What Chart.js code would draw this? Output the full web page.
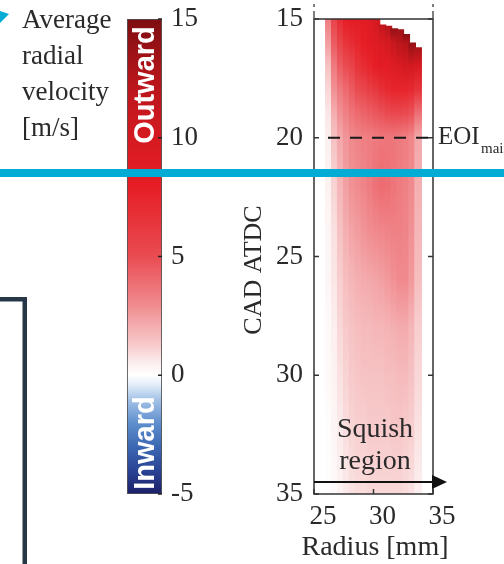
<!DOCTYPE html>
<html>
<head>
<meta charset="utf-8">
<title>Average radial velocity</title>
<script src="https://cdn.jsdelivr.net/npm/chart.js@4.4.0/dist/chart.umd.min.js"></script>
<style>
  body { margin: 0; background: #fff; overflow: hidden; }
  #wrap { position: relative; width: 504px; height: 564px; }
  canvas { position: absolute; left: 0; top: 0; }
</style>
</head>
<body>
<div id="wrap">
  <canvas id="barra" width="504" height="564"></canvas>
  <canvas id="mapa" width="504" height="564"></canvas>
</div>
<script>
  const cbTicks = [-5, 0, 5, 10, 15];
  const cmapValues = [-5, -4, -3, -2, -1, -0.4, 0, 0.5, 1.3, 3, 5, 6.5, 8, 10, 12.5, 15];
  const cmapColors = ['#1b1f68', '#2a4495', '#3d68b3', '#5f8fcd', '#a6c4e8', '#e3edf9', '#ffffff', '#fcefef',
                      '#f7c9ca', '#f08a8e', '#e94c52', '#e7343b', '#e71d25', '#d51a21', '#b5151a', '#7d0e11'];

  // radius columns [mm]
  const radius = [26.25, 26.75, 27.25, 27.75, 28.25, 28.75, 29.25, 29.75,
                  30.25, 30.75, 31.25, 31.75, 32.25, 32.75, 33.25, 33.75];
  // CAD where each column starts (upper edge) and velocity at that edge
  const colTop = [14.9, 14.9, 14.9, 14.9, 14.9, 14.9, 14.9, 14.9, 15.0, 15.25, 15.3, 15.4, 15.45, 15.65, 16.0, 16.2];
  const edgeVel = [3.5, 5.5, 7, 8, 8.5, 8.5, 8.5, 9, 10, 11.5, 12.5, 14, 13.5, 14.5, 14, 13];

  // velocity per column at each CAD row
  const cadRows = [15, 16, 17, 18, 19, 20, 22, 24, 26, 28, 30, 32, 35];
  const vel15 = [3.5, 5.5, 7, 8, 8.5, 8.5, 8.5, 9, 9.5, 10, 11, 12, 12.5, 13, 13, 12];
  const vel16 = [2.5, 4.5, 5.5, 6.5, 7, 7.5, 8, 8.5, 9, 9.5, 10, 11, 12, 12.5, 12.5, 12];
  const vel17 = [1.5, 3.5, 4.5, 5, 5.5, 6.5, 7, 7.5, 8, 8.5, 8.5, 9, 9.5, 10, 10, 9.5];
  const vel18 = [1, 2.8, 3.5, 4, 4.5, 5, 5.3, 5.8, 6.2, 6.8, 7.2, 7.5, 7.5, 7.5, 7.2, 6.5];
  const vel19 = [0.7, 2, 2.8, 3.3, 3.7, 4, 4.2, 4.4, 4.6, 4.8, 5, 5.2, 5.2, 5, 4.8, 3.8];
  const vel20 = [0.5, 1.5, 2.2, 2.7, 3, 3.2, 3.3, 3.4, 3.5, 3.6, 3.6, 3.6, 3.5, 3.4, 3.1, 2.2];
  const vel22 = [0.4, 1.1, 1.8, 2.4, 2.8, 3, 3.2, 3.5, 3.8, 4, 3.9, 3.7, 3.5, 3.3, 3, 2];
  const vel24 = [0.3, 0.8, 1.5, 2, 2.3, 2.5, 2.7, 2.9, 3, 3.1, 3.2, 3.3, 3.3, 3.2, 2.8, 1.8];
  const vel26 = [0.3, 0.7, 1.2, 1.6, 1.8, 2, 2.1, 2.2, 2.3, 2.4, 2.6, 2.8, 3, 3, 2.6, 1.6];
  const vel28 = [0.2, 0.5, 1, 1.3, 1.5, 1.6, 1.7, 1.7, 1.8, 1.8, 1.9, 2, 2.1, 2.1, 1.8, 1.2];
  const vel30 = [0.2, 0.4, 0.8, 1.1, 1.3, 1.4, 1.5, 1.5, 1.5, 1.5, 1.6, 1.6, 1.7, 1.7, 1.5, 1];
  const vel32 = [0.1, 0.3, 0.6, 0.9, 1.1, 1.2, 1.2, 1.3, 1.3, 1.3, 1.3, 1.4, 1.4, 1.3, 1.2, 0.8];
  const vel35 = [0.1, 0.2, 0.4, 0.6, 0.8, 0.9, 0.9, 1, 1, 1, 1, 1, 1, 0.9, 0.8, 0.5];
  const velRows = [vel15, vel16, vel17, vel18, vel19, vel20, vel22, vel24, vel26, vel28, vel30, vel32, vel35];

  const serif = '"Liberation Serif", "Times New Roman", serif';
  const sans = '"Liberation Sans", Arial, sans-serif';
  const ink = '#2a2a2a';

  Chart.defaults.font.family = serif;
  Chart.defaults.font.size = 27;
  Chart.defaults.color = ink;

  function hexRgb(h){
    return [parseInt(h.substr(1, 2), 16), parseInt(h.substr(3, 2), 16), parseInt(h.substr(5, 2), 16)];
  }

  // colour of a velocity on the colour bar
  function velColor(v){
    if (v <= cmapValues[0]) return cmapColors[0];
    for (let i = 1; i < cmapValues.length; i++) {
      if (v <= cmapValues[i]) {
        let t = (v - cmapValues[i - 1]) / (cmapValues[i] - cmapValues[i - 1]);
        let a = hexRgb(cmapColors[i - 1]), b = hexRgb(cmapColors[i]);
        let c = a.map((x, k) => Math.round(x + (b[k] - x) * t));
        return 'rgb(' + c.join(',') + ')';
      }
    }
    return cmapColors[cmapColors.length - 1];
  }

  function line(c, x1, y1, x2, y2){
    c.beginPath(); c.moveTo(x1, y1); c.lineTo(x2, y2); c.stroke();
  }

  // keep the plot box where the layout padding puts it
  function semPadding(s){
    s.paddingTop = 0; s.paddingBottom = 0;
    s.paddingLeft = 0; s.paddingRight = 0;
  }

  document.addEventListener("DOMContentLoaded", barraCores);
  document.addEventListener("DOMContentLoaded", mapaVelocidade);

  function barraCores(){
    let textos = {
      id: 'textosBarra',
      afterDraw(chart){
        let c = chart.ctx, a = chart.chartArea, ys = chart.scales.y;
        c.save();
        // title on the left
        c.fillStyle = ink;
        c.font = '27px ' + serif;
        c.textAlign = 'left';
        c.textBaseline = 'alphabetic';
        ['Average', 'radial', 'velocity', '[m/s]'].forEach((t, i) => c.fillText(t, 22, 28 + i * 36));
        // ticks inside the bar
        c.strokeStyle = '#222';
        c.lineWidth = 1.5;
        cbTicks.forEach(v => {
          let y = ys.getPixelForValue(v);
          line(c, a.right - 4, y, a.right, y);
        });
        // Outward / Inward
        c.fillStyle = '#fff';
        c.font = 'bold 29px ' + sans;
        c.textAlign = 'center';
        c.textBaseline = 'middle';
        let cx = (a.left + a.right) / 2 + 1;
        [['Outward', 85], ['Inward', 443]].forEach(p => {
          c.save();
          c.translate(cx, p[1]);
          c.rotate(-Math.PI / 2);
          c.fillText(p[0], 0, 0);
          c.restore();
        });
        c.restore();
      }
    };

    new Chart(document.getElementById('barra'), {
      type: 'bar',
      data: {
        labels: ['v'],
        datasets: [{
          data: [[cmapValues[0], cmapValues[cmapValues.length - 1]]],
          backgroundColor: function(ctx){
            let chart = ctx.chart;
            if (!chart.chartArea) return '#fff';
            let ys = chart.scales.y;
            let y0 = ys.getPixelForValue(ys.max), y1 = ys.getPixelForValue(ys.min);
            let g = chart.ctx.createLinearGradient(0, y0, 0, y1);
            for (let i = 0; i < cmapValues.length; i++) {
              g.addColorStop((ys.getPixelForValue(cmapValues[i]) - y0) / (y1 - y0), cmapColors[i]);
            }
            return g;
          },
          borderColor: '#555',
          borderWidth: 1.2,
          borderSkipped: false,
          barPercentage: 1,
          categoryPercentage: 1
        }]
      },
      options: {
        responsive: false,
        animation: false,
        events: [],
        layout: { padding: { left: 127, right: 302, top: 19, bottom: 70 } },
        plugins: { legend: { display: false }, tooltip: { enabled: false } },
        scales: {
          x: { display: false },
          y: {
            position: 'right',
            min: -5, max: 15,
            afterFit(s){ s.width = 40; semPadding(s); },
            grid: { display: false, drawTicks: false },
            border: { display: false },
            ticks: { stepSize: 5, padding: 9, color: ink }
          }
        }
      },
      plugins: [textos]
    });
  }

  function mapaVelocidade(){
    let dados = radius.map((r, i) => ({ x: r, y: [colTop[i], 35] }));

    let extras = {
      id: 'extrasMapa',
      afterDraw(chart){
        let c = chart.ctx, a = chart.chartArea, xs = chart.scales.x, ys = chart.scales.y;
        c.save();
        // axes box
        c.strokeStyle = '#333';
        c.lineWidth = 1.5;
        c.strokeRect(a.left, a.top, a.right - a.left, a.bottom - a.top);
        // inward ticks
        ys.ticks.forEach(t => {
          let y = ys.getPixelForValue(t.value);
          line(c, a.left, y, a.left + 5, y);
          line(c, a.right - 5, y, a.right, y);
        });
        xs.ticks.forEach(t => {
          let x = xs.getPixelForValue(t.value);
          line(c, x, a.bottom, x, a.bottom - 5);
        });
        // dash-dot lines above the box
        c.strokeStyle = '#555';
        c.setLineDash([8, 4, 3, 4]);
        line(c, a.left, a.top, a.left, 0);
        line(c, a.right, a.top, a.right, 0);
        // end of main injection
        let yEoi = ys.getPixelForValue(20);
        c.strokeStyle = '#1a1a1a';
        c.lineWidth = 2;
        c.setLineDash([12, 10]);
        line(c, a.left + 14, yEoi, a.right, yEoi);
        c.setLineDash([]);
        c.fillStyle = ink;
        c.textAlign = 'left';
        c.textBaseline = 'alphabetic';
        c.font = '25px ' + serif;
        c.fillText('EOI', a.right + 5, yEoi + 6);
        c.font = '15px ' + serif;
        c.fillText('main', a.right + 48, yEoi + 15);
        // squish region arrow
        let yArr = 482;
        c.strokeStyle = '#111';
        c.lineWidth = 2;
        line(c, a.left, yArr, a.right, yArr);
        c.fillStyle = '#111';
        c.beginPath();
        c.moveTo(a.right - 1, yArr - 7);
        c.lineTo(a.right + 14, yArr);
        c.lineTo(a.right - 1, yArr + 7);
        c.closePath();
        c.fill();
        c.fillStyle = ink;
        c.font = '28px ' + serif;
        c.textAlign = 'center';
        c.fillText('Squish', 375, 437);
        c.fillText('region', 375, 469);
        // axis titles
        c.textBaseline = 'middle';
        c.fillText('Radius [mm]', 375, 548);
        c.save();
        c.translate(254, 270);
        c.rotate(-Math.PI / 2);
        c.font = '26px ' + serif;
        c.fillText('CAD ATDC', 0, 0);
        c.restore();
        // slide marks over the figure
        c.fillStyle = '#263748';
        c.fillRect(0, 297, 27, 4.5);
        c.fillRect(22.5, 297, 4.5, 267);
        c.fillStyle = '#02acd4';
        c.fillRect(0, 169, 504, 8);
        c.beginPath();
        c.moveTo(0, 11);
        c.lineTo(9, 14);
        c.lineTo(0, 23);
        c.closePath();
        c.fill();
        c.restore();
      }
    };

    new Chart(document.getElementById('mapa'), {
      type: 'bar',
      data: {
        datasets: [{
          data: dados,
          backgroundColor: function(ctx){
            let chart = ctx.chart;
            if (!chart.chartArea || ctx.type !== 'data') return 'rgba(0,0,0,0)';
            let i = ctx.dataIndex;
            let ys = chart.scales.y;
            let y0 = ys.getPixelForValue(colTop[i]), y1 = ys.getPixelForValue(35);
            let g = chart.ctx.createLinearGradient(0, y0, 0, y1);
            g.addColorStop(0, velColor(edgeVel[i]));
            for (let k = 0; k < cadRows.length; k++) {
              if (cadRows[k] <= colTop[i] + 0.05) continue;
              g.addColorStop((ys.getPixelForValue(cadRows[k]) - y0) / (y1 - y0), velColor(velRows[k][i]));
            }
            return g;
          },
          borderWidth: 0,
          barThickness: 7
        }]
      },
      options: {
        responsive: false,
        animation: false,
        events: [],
        layout: { padding: { left: 240, right: 71, top: 19, bottom: 0 } },
        plugins: { legend: { display: false }, tooltip: { enabled: false } },
        scales: {
          x: {
            type: 'linear',
            min: 25, max: 35,
            offset: false,
            afterFit(s){ s.height = 70; semPadding(s); },
            grid: { display: false, drawTicks: false },
            border: { display: false },
            ticks: { stepSize: 5, padding: 7, labelOffset: 9, color: ink }
          },
          y: {
            reverse: true,
            min: 15, max: 35,
            afterFit(s){ s.width = 74; semPadding(s); },
            grid: { display: false, drawTicks: false },
            border: { display: false },
            ticks: { stepSize: 5, padding: 11, color: ink }
          }
        }
      },
      plugins: [extras]
    });
  }
</script>
</body>
</html>
